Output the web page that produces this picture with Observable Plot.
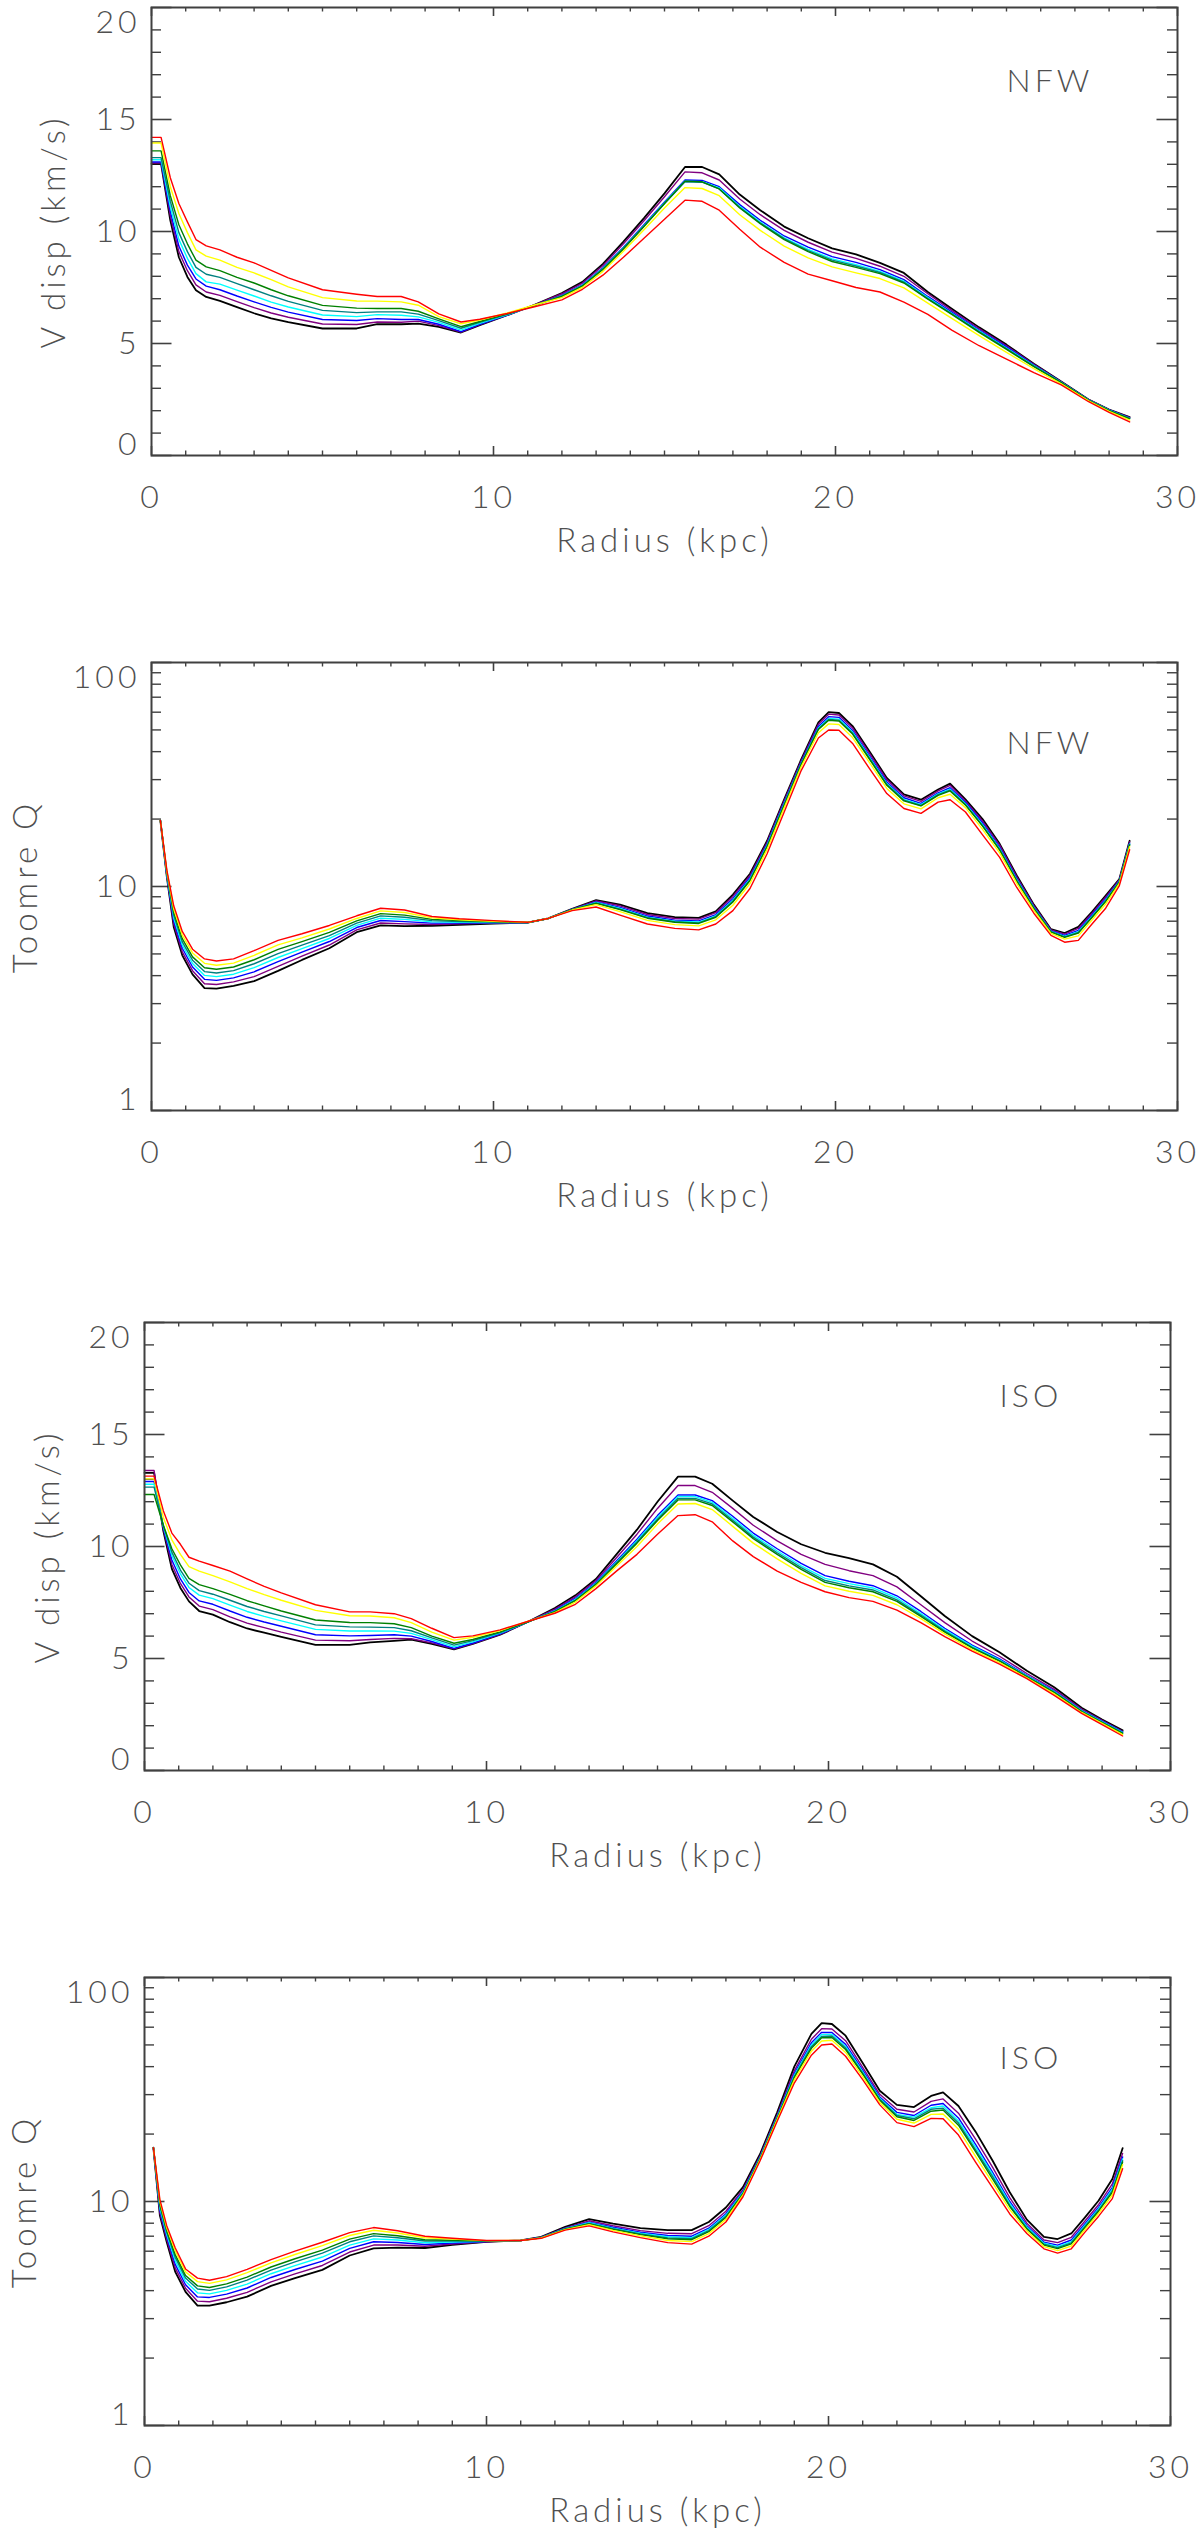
<!DOCTYPE html>
<html><head><meta charset="utf-8">
<script src="https://cdn.jsdelivr.net/npm/d3@7"></script>
<script src="https://cdn.jsdelivr.net/npm/@observablehq/plot@0.6"></script>
<style>
body{margin:0;background:#fff;}
#fig{position:relative;width:1200px;height:2534px;overflow:hidden;background:#fff;}
#fig svg{position:absolute;left:0;}
</style></head><body><div id="fig"></div>
<script>
// ---------- shared ----------
const seriesNames = ["black","purple","blue","cyan","teal","green","yellow","red"];
const seriesColors = ["#000000","#7a3cc0","#3048e0","#28c8f0","#48e090","#5cd848","#f0c030","#e63a24"];
const xTicksMajor = [0,10,20,30];
const xTicksMinor = d3.range(0,31).filter(d => d % 10 !== 0);
const dispTicksMajor = [0,5,10,15,20];
const dispTicksMinor = d3.range(0,21).filter(d => d % 5 !== 0);
const qTicksMajor = [1,10,100];
const qTicksMinor = [2,3,4,5,6,7,8,9,20,30,40,50,60,70,80,90];

// ---------- radius samples ----------
const radiusDisp = [0,0.28,0.55,0.8,1.05,1.3,1.6,2.0,2.5,3.0,3.5,4.0,5.0,6.0,6.6,7.3,7.8,8.4,9.05,9.6,10.4,11.2,12.0,12.6,13.2,13.8,14.4,15.0,15.6,16.1,16.6,17.2,17.8,18.5,19.2,19.9,20.6,21.3,22.0,22.7,23.4,24.2,25.0,25.8,26.6,27.4,28.0,28.6];
const radiusQ = [0.26,0.45,0.65,0.9,1.2,1.55,1.9,2.4,3.0,3.7,4.4,5.2,6.0,6.7,7.4,8.2,9.0,10.0,11.0,11.6,12.3,13.0,13.7,14.5,15.3,16.0,16.5,17.0,17.5,18.0,18.5,19.0,19.5,19.8,20.1,20.5,21.0,21.5,22.0,22.5,23.0,23.35,23.8,24.3,24.8,25.3,25.8,26.3,26.7,27.1,27.5,27.9,28.3,28.6];

// ---------- NFW velocity dispersion (km/s) ----------
const nfwDispBlack  = [13.02,13.02,10.5,8.85,7.97,7.38,7.08,6.9,6.62,6.35,6.12,5.95,5.67,5.67,5.86,5.86,5.89,5.74,5.49,5.82,6.26,6.73,7.25,7.75,8.55,9.55,10.6,11.7,12.88,12.88,12.55,11.65,10.95,10.22,9.7,9.25,8.98,8.6,8.15,7.3,6.55,5.72,4.95,4.1,3.3,2.5,2.05,1.72];
const nfwDispPurple = [13.06,13.06,10.7,9.1,8.25,7.62,7.3,7.15,6.87,6.6,6.36,6.17,5.87,5.85,5.96,5.95,6.0,5.8,5.51,5.84,6.27,6.72,7.22,7.7,8.48,9.45,10.48,11.55,12.66,12.62,12.3,11.45,10.75,10.05,9.52,9.08,8.8,8.45,8.0,7.22,6.48,5.66,4.9,4.07,3.29,2.49,2.04,1.7];
const nfwDispBlue   = [13.1,13.1,10.9,9.35,8.5,7.88,7.56,7.4,7.12,6.86,6.61,6.4,6.07,6.03,6.11,6.07,6.07,5.86,5.53,5.85,6.27,6.7,7.15,7.62,8.38,9.3,10.3,11.32,12.3,12.28,12.0,11.2,10.5,9.8,9.3,8.88,8.62,8.3,7.85,7.1,6.4,5.6,4.85,4.04,3.28,2.48,2.03,1.68];
const nfwDispCyan   = [13.2,13.2,11.1,9.65,8.8,8.12,7.75,7.65,7.38,7.12,6.85,6.63,6.27,6.2,6.29,6.26,6.19,5.94,5.6,5.9,6.28,6.69,7.12,7.6,8.35,9.27,10.26,11.28,12.25,12.22,11.95,11.12,10.42,9.72,9.2,8.78,8.52,8.22,7.78,7.05,6.35,5.56,4.8,4.01,3.27,2.47,2.02,1.66];
const nfwDispTeal   = [13.3,13.3,11.35,9.95,9.1,8.4,8.09,7.95,7.67,7.4,7.13,6.88,6.48,6.38,6.41,6.41,6.31,6.02,5.68,5.95,6.3,6.7,7.12,7.58,8.33,9.25,10.24,11.25,12.22,12.2,11.9,11.08,10.38,9.68,9.15,8.72,8.46,8.17,7.74,7.0,6.32,5.53,4.77,3.99,3.26,2.47,2.01,1.65];
const nfwDispGreen  = [13.6,13.6,11.6,10.3,9.45,8.72,8.42,8.25,7.95,7.7,7.4,7.13,6.7,6.58,6.56,6.56,6.44,6.1,5.75,5.98,6.32,6.7,7.1,7.56,8.3,9.22,10.22,11.25,12.25,12.22,11.9,11.05,10.35,9.64,9.1,8.66,8.4,8.12,7.7,6.98,6.3,5.5,4.74,3.97,3.25,2.46,2.0,1.64];
const nfwDispYellow = [13.95,13.95,12.0,10.8,9.95,9.18,8.9,8.72,8.4,8.15,7.85,7.53,7.05,6.9,6.89,6.86,6.71,6.2,5.88,6.05,6.36,6.72,7.05,7.5,8.22,9.12,10.08,11.05,11.96,11.92,11.6,10.75,10.05,9.35,8.82,8.42,8.15,7.9,7.48,6.8,6.12,5.35,4.6,3.88,3.2,2.44,1.97,1.58];
const nfwDispRed    = [14.2,14.2,12.4,11.25,10.43,9.64,9.36,9.18,8.85,8.6,8.26,7.93,7.4,7.2,7.1,7.1,6.86,6.32,5.96,6.08,6.34,6.64,6.95,7.42,8.05,8.85,9.7,10.55,11.4,11.35,10.95,10.1,9.3,8.62,8.1,7.8,7.5,7.3,6.85,6.3,5.6,4.9,4.3,3.7,3.15,2.4,1.93,1.5];

// ---------- NFW Toomre Q ----------
const nfwQBlack  = [19.7,11.0,6.6,4.93,4.05,3.52,3.5,3.6,3.78,4.2,4.7,5.3,6.25,6.7,6.65,6.68,6.75,6.83,6.9,7.2,7.95,8.7,8.3,7.6,7.3,7.25,7.75,9.2,11.4,16.0,24.5,37,54,60,59.5,52,40,30.5,25.8,24.4,27.1,28.8,24.5,20.0,15.5,11.2,8.3,6.45,6.2,6.6,7.7,9.1,10.8,16.0];
const nfwQPurple = [19.7,11.1,6.8,5.11,4.21,3.68,3.65,3.75,3.96,4.4,4.89,5.48,6.4,6.87,6.81,6.77,6.81,6.86,6.9,7.2,7.93,8.63,8.2,7.5,7.2,7.15,7.64,9.03,11.2,15.76,24.14,36.5,53.0,58.8,58.3,51.0,39.2,30.0,25.4,24.0,26.7,28.3,24.1,19.6,15.3,11.04,8.22,6.4,6.13,6.5,7.59,8.97,10.72,15.83];
const nfwQBlue   = [19.7,11.2,7.03,5.3,4.37,3.85,3.81,3.91,4.16,4.62,5.09,5.68,6.56,7.05,6.97,6.86,6.87,6.89,6.9,7.2,7.91,8.54,8.07,7.38,7.08,7.02,7.49,8.82,10.97,15.46,23.69,35.9,51.8,57.3,56.9,49.7,38.2,29.3,24.9,23.5,26.2,27.6,23.7,19.2,14.96,10.85,8.11,6.34,6.05,6.37,7.46,8.8,10.61,15.62];
const nfwQCyan   = [19.7,11.3,7.24,5.48,4.53,4.01,3.96,4.06,4.34,4.82,5.28,5.86,6.71,7.22,7.13,6.95,6.92,6.91,6.91,7.2,7.89,8.48,7.99,7.3,7.0,6.94,7.4,8.68,10.81,15.26,23.39,35.5,51.0,56.3,55.9,48.9,37.6,28.8,24.5,23.2,25.9,27.2,23.4,18.9,14.76,10.72,8.04,6.3,5.99,6.29,7.37,8.69,10.54,15.48];
const nfwQTeal   = [19.7,11.4,7.45,5.66,4.69,4.17,4.11,4.21,4.52,5.02,5.47,6.04,6.86,7.39,7.29,7.04,6.98,6.94,6.91,7.2,7.88,8.44,7.93,7.26,6.96,6.88,7.34,8.6,10.71,15.14,23.21,35.3,50.6,55.7,55.3,48.3,37.2,28.6,24.3,23.0,25.7,26.9,23.2,18.7,14.64,10.64,8.0,6.28,5.96,6.23,7.31,8.63,10.5,15.4];
const nfwQGreen  = [19.7,11.55,7.67,5.85,4.85,4.34,4.27,4.37,4.71,5.24,5.67,6.24,7.02,7.57,7.45,7.13,7.04,6.97,6.91,7.2,7.88,8.41,7.89,7.22,6.92,6.84,7.29,8.53,10.63,15.04,23.06,35.1,50.2,55.2,54.8,47.9,36.9,28.3,24.1,22.9,25.5,26.7,23.1,18.6,14.54,10.58,7.96,6.26,5.93,6.19,7.27,8.57,10.46,15.33];
const nfwQYellow = [19.7,11.65,7.93,6.07,5.05,4.54,4.45,4.55,4.93,5.49,5.9,6.46,7.2,7.78,7.65,7.24,7.11,7.0,6.92,7.2,7.85,8.3,7.72,7.06,6.76,6.67,7.1,8.25,10.31,14.64,22.46,34.3,48.6,53.2,52.9,46.2,35.6,27.4,23.4,22.2,24.9,25.8,22.5,18.0,14.14,10.32,7.82,6.18,5.82,6.02,7.09,8.35,10.32,15.05];
const nfwQRed    = [19.7,11.8,8.2,6.3,5.25,4.75,4.65,4.75,5.17,5.75,6.15,6.7,7.4,8.0,7.85,7.35,7.18,7.04,6.92,7.2,7.8,8.1,7.45,6.8,6.5,6.4,6.8,7.8,9.8,14.0,21.5,33,46,50,49.8,43.5,33.5,26.0,22.3,21.2,23.8,24.4,21.5,17.0,13.5,9.9,7.6,6.05,5.64,5.75,6.8,8.0,10.1,14.6];

// ---------- ISO velocity dispersion (km/s) ----------
const isoDispBlack  = [13.29,13.29,10.7,9.0,8.15,7.55,7.12,6.96,6.62,6.34,6.15,5.96,5.61,5.61,5.72,5.79,5.84,5.65,5.41,5.65,6.06,6.63,7.25,7.82,8.55,9.65,10.75,12.0,13.12,13.12,12.8,12.05,11.32,10.65,10.1,9.72,9.48,9.2,8.65,7.78,6.9,6.0,5.28,4.45,3.72,2.8,2.28,1.79];
const isoDispPurple = [13.39,13.39,10.8,9.2,8.35,7.75,7.34,7.18,6.86,6.58,6.38,6.18,5.82,5.79,5.85,5.9,5.88,5.7,5.43,5.67,6.08,6.63,7.2,7.75,8.48,9.5,10.55,11.7,12.72,12.72,12.42,11.7,10.95,10.25,9.65,9.2,8.92,8.7,8.2,7.4,6.6,5.78,5.1,4.33,3.62,2.74,2.24,1.75];
const isoDispBlue   = [12.9,12.9,10.85,9.4,8.55,7.95,7.57,7.42,7.12,6.84,6.63,6.44,6.06,6.01,6.03,6.06,6.0,5.76,5.45,5.69,6.1,6.62,7.15,7.68,8.4,9.35,10.32,11.38,12.3,12.3,12.05,11.35,10.6,9.9,9.25,8.7,8.45,8.25,7.8,7.1,6.35,5.6,4.98,4.25,3.55,2.69,2.2,1.72];
const isoDispCyan   = [12.78,12.78,10.9,9.6,8.78,8.17,7.83,7.67,7.38,7.1,6.88,6.68,6.3,6.23,6.23,6.22,6.12,5.84,5.52,5.74,6.13,6.62,7.12,7.64,8.36,9.3,10.26,11.3,12.23,12.23,11.97,11.25,10.5,9.8,9.14,8.58,8.34,8.15,7.7,7.0,6.28,5.55,4.94,4.22,3.52,2.67,2.18,1.7];
const isoDispTeal   = [12.65,12.65,10.95,9.75,8.95,8.36,8.03,7.87,7.6,7.32,7.1,6.9,6.5,6.41,6.4,6.38,6.24,5.92,5.6,5.8,6.16,6.63,7.1,7.61,8.33,9.26,10.2,11.22,12.15,12.15,11.9,11.17,10.42,9.72,9.06,8.48,8.24,8.06,7.62,6.94,6.22,5.5,4.91,4.2,3.5,2.65,2.16,1.68];
const isoDispGreen  = [12.32,12.32,10.95,9.9,9.18,8.58,8.3,8.12,7.86,7.58,7.35,7.12,6.72,6.61,6.6,6.55,6.38,6.0,5.68,5.85,6.19,6.63,7.09,7.58,8.3,9.22,10.15,11.16,12.08,12.08,11.83,11.1,10.35,9.65,8.98,8.4,8.16,7.98,7.55,6.88,6.18,5.47,4.88,4.18,3.48,2.63,2.14,1.66];
const isoDispYellow = [13.02,13.02,11.3,10.3,9.65,9.1,8.9,8.7,8.42,8.12,7.85,7.6,7.15,6.91,6.9,6.82,6.6,6.18,5.82,5.95,6.25,6.66,7.05,7.52,8.24,9.12,10.0,11.0,11.9,11.92,11.65,10.9,10.15,9.45,8.8,8.24,8.0,7.82,7.4,6.78,6.1,5.4,4.82,4.14,3.42,2.59,2.1,1.6];
const isoDispRed    = [13.14,13.14,11.6,10.6,10.1,9.52,9.35,9.15,8.9,8.55,8.22,7.93,7.4,7.08,7.08,7.0,6.78,6.35,5.93,6.01,6.28,6.65,7.02,7.42,8.12,8.9,9.65,10.55,11.38,11.42,11.1,10.25,9.55,8.9,8.4,7.98,7.72,7.55,7.16,6.6,5.98,5.33,4.75,4.1,3.35,2.55,2.05,1.54];

// ---------- ISO Toomre Q ----------
const isoQBlack  = [17.4,8.65,6.6,4.85,3.95,3.43,3.43,3.55,3.76,4.2,4.55,4.95,5.74,6.18,6.22,6.2,6.4,6.6,6.7,6.95,7.7,8.35,7.96,7.6,7.45,7.45,8.1,9.4,11.6,16.3,25,40,56,62.5,62,55,41.5,31.2,27,26.4,29.6,30.7,26.7,20.5,15.2,11.0,8.3,6.95,6.8,7.2,8.5,10.1,12.6,17.3];
const isoQPurple = [17.4,8.87,6.77,5.04,4.1,3.59,3.57,3.7,3.93,4.38,4.75,5.18,5.95,6.39,6.39,6.31,6.46,6.61,6.7,6.93,7.63,8.2,7.79,7.41,7.21,7.18,7.8,9.05,11.3,16.0,24.4,38.3,53.0,59.1,58.9,52.2,39.7,30.1,25.8,25.1,28.0,28.7,24.8,19.0,14.2,10.4,8.0,6.73,6.55,6.92,8.18,9.7,11.98,16.4];
const isoQBlue   = [17.4,9.1,6.95,5.24,4.25,3.75,3.73,3.86,4.11,4.58,4.97,5.42,6.18,6.61,6.56,6.43,6.53,6.63,6.7,6.91,7.59,8.09,7.67,7.29,7.05,7.0,7.6,8.82,11.1,15.8,24.0,37.2,51.1,56.9,56.8,50.3,38.6,29.3,25.0,24.2,26.9,27.4,23.6,18.0,13.5,10.0,7.8,6.59,6.39,6.73,7.96,9.43,11.57,15.8];
const isoQCyan   = [17.4,9.32,7.12,5.43,4.4,3.91,3.87,4.01,4.28,4.76,5.17,5.65,6.39,6.81,6.73,6.54,6.59,6.64,6.7,6.9,7.56,8.04,7.61,7.22,6.96,6.9,7.5,8.69,11.0,15.7,23.8,36.6,50.0,55.6,55.7,49.2,37.9,28.9,24.5,23.8,26.2,26.7,22.9,17.5,13.2,9.8,7.7,6.51,6.29,6.62,7.84,9.28,11.34,15.5];
const isoQTeal   = [17.4,9.53,7.28,5.62,4.55,4.07,4.01,4.16,4.46,4.94,5.38,5.88,6.61,7.02,6.89,6.66,6.66,6.66,6.7,6.89,7.54,7.99,7.56,7.16,6.88,6.82,7.41,8.58,10.9,15.6,23.6,36.1,49.1,54.6,54.8,48.4,37.4,28.6,24.2,23.4,25.8,26.1,22.4,17.0,12.9,9.6,7.6,6.45,6.22,6.54,7.74,9.16,11.15,15.2];
const isoQGreen  = [17.4,9.72,7.43,5.78,4.67,4.2,4.13,4.29,4.6,5.1,5.55,6.07,6.79,7.19,7.03,6.75,6.71,6.67,6.7,6.88,7.53,7.95,7.51,7.11,6.82,6.75,7.33,8.49,10.83,15.53,23.5,35.7,48.3,53.8,54.0,47.7,37.0,28.3,23.9,23.0,25.3,25.6,21.9,16.7,12.6,9.5,7.53,6.39,6.16,6.47,7.66,9.05,10.99,15.0];
const isoQYellow = [17.4,9.98,7.63,6.01,4.85,4.39,4.31,4.47,4.81,5.32,5.8,6.35,7.05,7.44,7.23,6.89,6.79,6.69,6.7,6.87,7.49,7.88,7.43,7.02,6.7,6.62,7.19,8.32,10.69,15.39,23.2,34.9,46.9,52.1,52.5,46.3,36.1,27.7,23.3,22.4,24.5,24.6,21.0,15.9,12.1,9.2,7.39,6.29,6.04,6.33,7.5,8.86,10.69,14.6];
const isoQRed    = [17.4,10.2,7.8,6.2,5.0,4.55,4.45,4.62,4.98,5.5,6.0,6.58,7.26,7.65,7.4,7.0,6.85,6.7,6.7,6.85,7.45,7.78,7.32,6.9,6.55,6.45,7.0,8.1,10.5,15.2,22.8,33.8,45,50,50.5,44.5,35,27,22.5,21.6,23.5,23.4,19.8,15.0,11.5,8.8,7.2,6.15,5.88,6.15,7.3,8.6,10.3,14.0];

// ---------- build ----------
function tidy(radius, cols) {
  const out = [];
  cols.forEach((vals, i) => vals.forEach((v, j) => out.push({r: radius[j], v, s: seriesNames[i]})));
  return out;
}
const FRAME_W = 1026, FRAME_H = 448;
const TXT = {fill: "#505050", fontSize: 32, fontWeight: 300};

function panel(o) {
  const mL = o.left, mR = 1200 - o.left - FRAME_W;
  const yLo = o.yDomain[0], yHi = o.yDomain[1];
  const mid = o.yLabels.filter(d => d !== yLo && d !== yHi);
  const yMaj = 20.5, yMin2 = 10, xMaj = 9, xMin2 = 4.5;
  const svg = Plot.plot({
    width: 1200, height: 580,
    marginLeft: mL, marginRight: mR, marginTop: 7, marginBottom: 125,
    style: {fontFamily: "Lato, 'DejaVu Sans', sans-serif", letterSpacing: "4px", background: "white"},
    x: {domain: [0, 30], axis: null},
    y: {type: o.yType, domain: o.yDomain, axis: null},
    color: {domain: seriesNames, range: seriesColors},
    marks: [
      // inward ticks, bottom & top
      Plot.tickX(xTicksMajor, {x: d => d, insetTop: FRAME_H - xMaj, stroke: "#404040", strokeWidth: 1.6}),
      Plot.tickX(xTicksMinor, {x: d => d, insetTop: FRAME_H - xMin2, stroke: "#404040", strokeWidth: 1.4}),
      Plot.tickX(xTicksMajor, {x: d => d, insetBottom: FRAME_H - xMaj, stroke: "#404040", strokeWidth: 1.6}),
      Plot.tickX(xTicksMinor, {x: d => d, insetBottom: FRAME_H - xMin2, stroke: "#404040", strokeWidth: 1.4}),
      // inward ticks, left & right
      Plot.tickY(o.yMajor, {y: d => d, insetRight: FRAME_W - yMaj, stroke: "#404040", strokeWidth: 1.6}),
      Plot.tickY(o.yMinor, {y: d => d, insetRight: FRAME_W - yMin2, stroke: "#404040", strokeWidth: 1.4}),
      Plot.tickY(o.yMajor, {y: d => d, insetLeft: FRAME_W - yMaj, stroke: "#404040", strokeWidth: 1.6}),
      Plot.tickY(o.yMinor, {y: d => d, insetLeft: FRAME_W - yMin2, stroke: "#404040", strokeWidth: 1.4}),
      // curves
      Plot.line(tidy(o.radius, o.cols), {x: "r", y: "v", z: "s", stroke: "s",
        strokeWidth: d => d.s === "black" ? 1.8 : 1.4, curve: "linear"}),
      Plot.frame({stroke: "#404040", strokeWidth: 2}),
      // tick labels
      Plot.text(xTicksMajor, {x: d => d, text: d => String(d), frameAnchor: "bottom", dy: 42, lineAnchor: "middle", ...TXT}),
      Plot.text(mid, {y: d => d, text: d => String(d), frameAnchor: "left", dx: -11, textAnchor: "end", lineAnchor: "middle", ...TXT}),
      Plot.text([yHi], {y: d => d, text: d => String(d), frameAnchor: "left", dx: -11, dy: 15, textAnchor: "end", lineAnchor: "middle", ...TXT}),
      Plot.text([yLo], {y: d => d, text: d => String(d), frameAnchor: "left", dx: -11, dy: -11, textAnchor: "end", lineAnchor: "middle", ...TXT}),
      // axis titles
      Plot.text(["Radius (kpc)"], {text: d => d, frameAnchor: "bottom", dy: 86, lineAnchor: "middle", ...TXT, fontSize: 33}),
      Plot.text([o.yTitle], {text: d => d, frameAnchor: "left", dx: o.yTitleX - mL, rotate: -90, textAnchor: "middle", lineAnchor: "middle", ...TXT, fontSize: 33}),
      // model name
      Plot.text([o.model], {x: 25, y: o.modelY, text: d => d, textAnchor: "start", lineAnchor: "bottom", ...TXT, fontSize: 32})
    ]
  });
  svg.style.top = o.top + "px";
  document.getElementById("fig").appendChild(svg);
}

panel({top: 0, left: 151, yType: "linear", yDomain: [0, 20], yMajor: dispTicksMajor, yMinor: dispTicksMinor,
  yLabels: dispTicksMajor, yTitle: "V disp (km/s)", yTitleX: 54, model: "NFW", modelY: 16.25,
  radius: radiusDisp, cols: [nfwDispBlack, nfwDispPurple, nfwDispBlue, nfwDispCyan, nfwDispTeal, nfwDispGreen, nfwDispYellow, nfwDispRed]});
panel({top: 655, left: 151, yType: "log", yDomain: [1, 100], yMajor: qTicksMajor, yMinor: qTicksMinor,
  yLabels: qTicksMajor, yTitle: "Toomre Q", yTitleX: 26, model: "NFW", modelY: 39,
  radius: radiusQ, cols: [nfwQBlack, nfwQPurple, nfwQBlue, nfwQCyan, nfwQTeal, nfwQGreen, nfwQYellow, nfwQRed]});
panel({top: 1315, left: 144, yType: "linear", yDomain: [0, 20], yMajor: dispTicksMajor, yMinor: dispTicksMinor,
  yLabels: dispTicksMajor, yTitle: "V disp (km/s)", yTitleX: 48, model: "ISO", modelY: 16.25,
  radius: radiusDisp, cols: [isoDispBlack, isoDispPurple, isoDispBlue, isoDispCyan, isoDispTeal, isoDispGreen, isoDispYellow, isoDispRed]});
panel({top: 1970, left: 144, yType: "log", yDomain: [1, 100], yMajor: qTicksMajor, yMinor: qTicksMinor,
  yLabels: qTicksMajor, yTitle: "Toomre Q", yTitleX: 25, model: "ISO", modelY: 39,
  radius: radiusQ, cols: [isoQBlack, isoQPurple, isoQBlue, isoQCyan, isoQTeal, isoQGreen, isoQYellow, isoQRed]});
</script></body></html>
